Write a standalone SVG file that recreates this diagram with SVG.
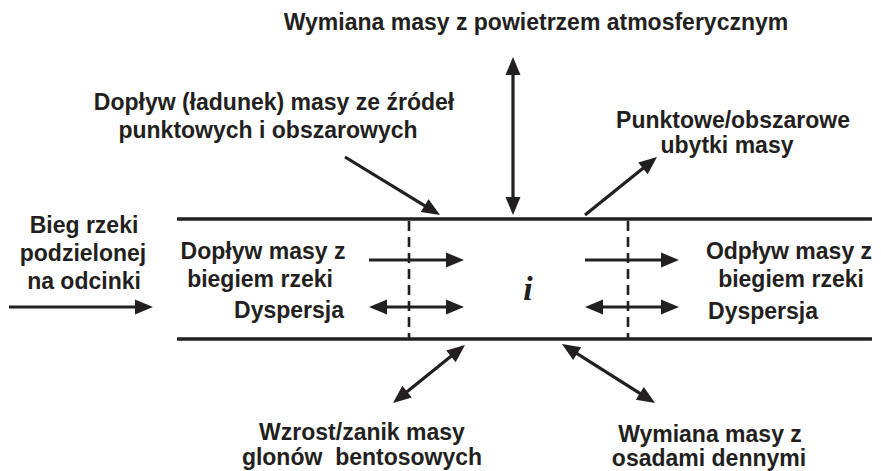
<svg xmlns="http://www.w3.org/2000/svg" width="881" height="471" viewBox="0 0 881 471">
<style>
.t{font-family:"Liberation Sans",Arial,sans-serif;font-weight:bold;font-size:23px;fill:#231f20;text-anchor:middle}
.pre{white-space:pre}
.river{stroke:#231f20;stroke-width:3.4;fill:none}
.dash{stroke:#231f20;stroke-width:2.6;stroke-dasharray:10 6;fill:none}
.a{stroke:#231f20;stroke-width:3.2;fill:none;marker-end:url(#ah)}
.d{stroke:#231f20;stroke-width:3.2;fill:none;marker-start:url(#ah);marker-end:url(#ah)}
</style>
<defs>
<marker id="ah" markerUnits="userSpaceOnUse" markerWidth="18" markerHeight="15" refX="8" refY="7.5" orient="auto-start-reverse" overflow="visible">
<path d="M0,0 L18,7.5 L0,15 z" fill="#231f20"/>
</marker>
</defs>
<rect width="881" height="471" fill="#ffffff"/>
<g id="river">
<line class="river" x1="177" y1="219" x2="872" y2="219"/>
<line class="river" x1="177" y1="339" x2="872" y2="339"/>
<line class="dash" x1="409" y1="221" x2="409" y2="338"/>
<line class="dash" x1="628" y1="221" x2="628" y2="338"/>
</g>
<g id="connectors">
<line class="a" x1="9" y1="307" x2="143" y2="307"/>
<line class="a" x1="369" y1="260" x2="454" y2="260"/>
<line class="d" x1="379" y1="307" x2="454" y2="307"/>
<line class="a" x1="585" y1="260" x2="669" y2="260"/>
<line class="d" x1="595" y1="307" x2="669" y2="307"/>
<line class="d" x1="513" y1="67" x2="513" y2="205"/>
<line class="a" x1="345" y1="157" x2="431.5" y2="209.8"/>
<line class="a" x1="585" y1="215" x2="649.2" y2="163.3"/>
<line class="d" x1="457.2" y1="351.3" x2="400.8" y2="396.7"/>
<line class="d" x1="570.4" y1="349.4" x2="646.6" y2="397.6"/>
</g>
<g id="atmosfera">
<text class="t" x="536" y="30">Wymiana masy z powietrzem atmosferycznym</text>
</g>
<g id="doplyw-zrodla">
<text class="t" x="274" y="110">Dopływ (ładunek) masy ze źródeł</text>
<text class="t" x="268" y="138">punktowych i obszarowych</text>
</g>
<g id="ubytki">
<text class="t" x="733" y="128">Punktowe/obszarowe</text>
<text class="t" x="727" y="153">ubytki masy</text>
</g>
<g id="bieg-rzeki">
<text class="t" x="84" y="233">Bieg rzeki</text>
<text class="t" x="83" y="261">podzielonej</text>
<text class="t" x="84" y="289">na odcinki</text>
</g>
<g id="doplyw-biegiem">
<text class="t" x="263" y="259">Dopływ masy z</text>
<text class="t" x="260" y="287">biegiem rzeki</text>
<text class="t" x="289" y="318">Dyspersja</text>
</g>
<g id="odcinek-i">
<text x="528" y="300" style="font-family:'Liberation Serif','Times New Roman',serif;font-weight:bold;font-style:italic;font-size:34px;fill:#231f20;text-anchor:middle">i</text>
</g>
<g id="odplyw-biegiem">
<text class="t" x="789" y="259">Odpływ masy z</text>
<text class="t" x="791" y="287">biegiem rzeki</text>
<text class="t" x="763" y="319">Dyspersja</text>
</g>
<g id="glony">
<text class="t" x="362" y="440">Wzrost/zanik masy</text>
<text class="t pre" x="362" y="465">glonów  bentosowych</text>
</g>
<g id="osady">
<text class="t" x="710" y="442">Wymiana masy z</text>
<text class="t" x="709" y="466">osadami dennymi</text>
</g>
</svg>
